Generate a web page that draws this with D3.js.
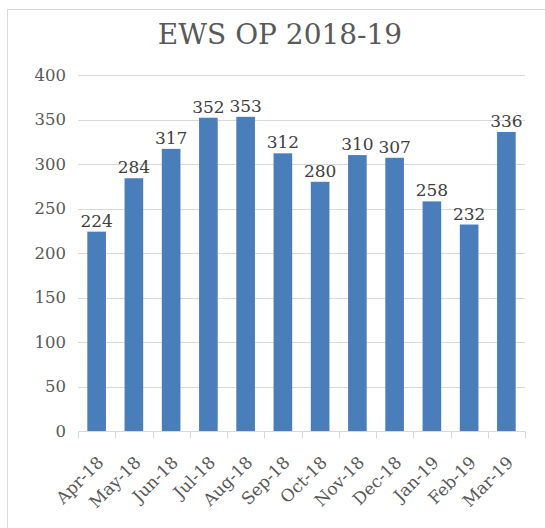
<!DOCTYPE html>
<html>
<head>
<meta charset="utf-8">
<script src="https://cdn.jsdelivr.net/npm/d3@7"></script>
<style>
  body { margin: 0; background: #fff; }
  text { font-family: "DejaVu Serif", serif; }
</style>
</head>
<body>
<svg id="chart" width="545" height="528"></svg>
<script>
const months = ["Apr-18", "May-18", "Jun-18", "Jul-18", "Aug-18", "Sep-18",
  "Oct-18", "Nov-18", "Dec-18", "Jan-19", "Feb-19", "Mar-19"];
const counts = [224, 284, 317, 352, 353, 312, 280, 310, 307, 258, 232, 336];
const yTicks = [0, 50, 100, 150, 200, 250, 300, 350, 400];

const W = 545, H = 528;
const margin = {left: 78, right: 20, top: 75, bottom: 97};

const svg = d3.select("#chart");

// chart frame (top + left edges only are visible)
svg.append("path")
  .attr("d", `M7.5,${H} V9.5 H${W}`)
  .attr("fill", "none")
  .attr("stroke", "#d9d9d9");

svg.append("text")
  .attr("x", 280)
  .attr("y", 44)
  .attr("text-anchor", "middle")
  .attr("font-size", 28)
  .attr("fill", "#595959")
  .text("EWS OP 2018-19");

const x = d3.scaleBand()
  .domain(months)
  .range([margin.left, W - margin.right])
  .paddingInner(0.5)
  .paddingOuter(0.25);

const y = d3.scaleLinear()
  .domain([0, 400])
  .range([H - margin.bottom, margin.top]);

// gridlines
svg.append("g")
  .selectAll("line")
  .data(yTicks.filter(d => d > 0))
  .join("line")
  .attr("x1", margin.left)
  .attr("x2", W - margin.right)
  .attr("y1", d => Math.round(y(d)) + 0.5)
  .attr("y2", d => Math.round(y(d)) + 0.5)
  .attr("stroke", "#d9d9d9");

// y axis labels
svg.append("g")
  .selectAll("text")
  .data(yTicks)
  .join("text")
  .attr("x", 66)
  .attr("y", d => y(d))
  .attr("dy", "0.36em")
  .attr("text-anchor", "end")
  .attr("font-size", 16.5)
  .attr("fill", "#595959")
  .text(d => d);

// bars
svg.append("g")
  .selectAll("rect")
  .data(counts)
  .join("rect")
  .attr("x", (d, i) => x(months[i]))
  .attr("width", x.bandwidth())
  .attr("y", d => y(d))
  .attr("height", d => y(0) - y(d))
  .attr("fill", "#4a7ebb");

// data labels
svg.append("g")
  .selectAll("text")
  .data(counts)
  .join("text")
  .attr("x", (d, i) => x(months[i]) + x.bandwidth() / 2)
  .attr("y", d => y(d) - 5)
  .attr("text-anchor", "middle")
  .attr("font-size", 17)
  .attr("fill", "#404040")
  .text(d => d);

// x axis line + tick marks between categories
const axisY = Math.round(y(0)) + 0.5;
const step = x.step();
const edges = d3.range(months.length + 1).map(i => margin.left + i * step);
const xa = svg.append("g");
xa.append("line")
  .attr("x1", margin.left).attr("x2", W - margin.right)
  .attr("y1", axisY).attr("y2", axisY)
  .attr("stroke", "#d9d9d9");
xa.selectAll(".tick")
  .data(edges)
  .join("line")
  .attr("class", "tick")
  .attr("x1", d => Math.round(d) + 0.5).attr("x2", d => Math.round(d) + 0.5)
  .attr("y1", axisY).attr("y2", axisY + 7)
  .attr("stroke", "#d9d9d9");

// rotated month labels
xa.selectAll("text")
  .data(months)
  .join("text")
  .attr("text-anchor", "end")
  .attr("font-size", 17)
  .attr("fill", "#595959")
  .attr("transform", d => `translate(${x(d) + x.bandwidth() / 2 + 8},${axisY + 32}) rotate(-45)`)
  .text(d => d);
</script>
</body>
</html>
